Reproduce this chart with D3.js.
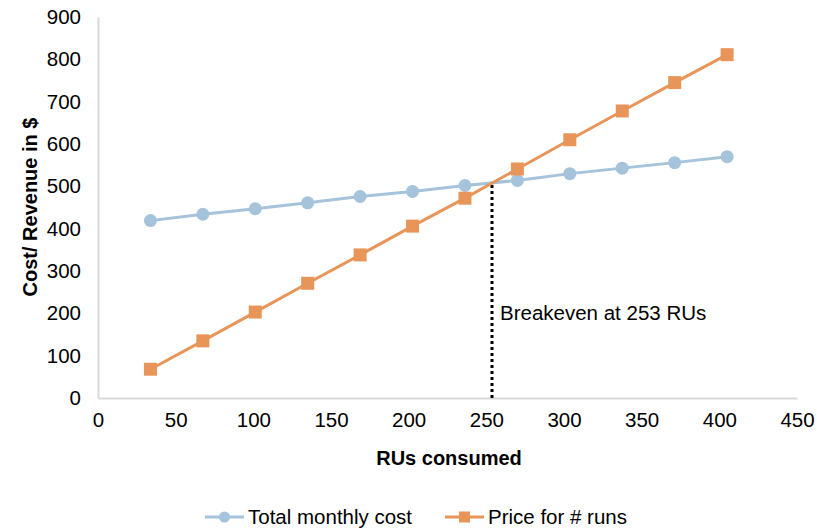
<!DOCTYPE html>
<html><head><meta charset="utf-8">
<script src="https://cdn.jsdelivr.net/npm/d3@7"></script>
<style>body{margin:0;background:#fff}text{font-family:"Liberation Sans",Arial,sans-serif}</style>
</head><body>
<svg id="c" width="817" height="529"></svg>
<script>
const runs = [33.75, 67.5, 101.25, 135, 168.75, 202.5, 236.25, 270, 303.75, 337.5, 371.25, 405];
const totalCost = [419, 434, 447, 461, 476, 488, 502, 514, 530, 543, 556, 570];
const priceRuns = [68, 135, 203, 271, 338, 406, 472, 541, 610, 678, 745, 811];
const xTicks = [0, 50, 100, 150, 200, 250, 300, 350, 400, 450];
const yTicks = [0, 100, 200, 300, 400, 500, 600, 700, 800, 900];
const breakeven = 253;
const breakevenY = 507;
const seriesNames = ["Total monthly cost", "Price for # runs"];
const colors = ["#a5c3db", "#e8955a"];

const svg = d3.select("#c");
const x = d3.scaleLinear().domain([0, 450]).range([98, 797]);
const y = d3.scaleLinear().domain([0, 900]).range([398, 17]);
const fs = 20.5;

// axes
const xa = svg.append("g").attr("transform", "translate(0,398)")
  .call(d3.axisBottom(x).tickValues(xTicks).tickSize(0).tickPadding(14));
const ya = svg.append("g").attr("transform", "translate(98,0)")
  .call(d3.axisLeft(y).tickValues(yTicks).tickSize(0).tickPadding(17));
[xa, ya].forEach(a => {
  a.select(".domain").attr("stroke", "#d9d9d9").attr("stroke-width", 2);
  a.selectAll("text").attr("font-size", fs).attr("fill", "#000")
    .attr("font-family", '"Liberation Sans",Arial,sans-serif');
});

// titles
svg.append("text").attr("x", 449).attr("y", 465).attr("text-anchor", "middle")
  .attr("font-size", 20).attr("font-weight", "bold").text("RUs consumed");
svg.append("text").attr("transform", "translate(37,207) rotate(-90)").attr("text-anchor", "middle")
  .attr("font-size", 20).attr("font-weight", "bold").text("Cost/ Revenue in $");

// breakeven line
svg.append("line").attr("x1", x(breakeven) + 1).attr("x2", x(breakeven) + 1)
  .attr("y1", y(0)).attr("y2", y(breakevenY))
  .attr("stroke", "#000").attr("stroke-width", 3).attr("stroke-dasharray", "3,3");
svg.append("text").attr("x", x(breakeven) + 9).attr("y", 320).attr("font-size", fs)
  .text("Breakeven at " + breakeven + " RUs");

const line = d3.line().x((d, i) => x(runs[i])).y(d => y(d));
const data = [totalCost, priceRuns];
data.forEach((s, k) => {
  svg.append("path").attr("d", line(s)).attr("fill", "none")
    .attr("stroke", colors[k]).attr("stroke-width", 3);
});
// markers
svg.selectAll(".c").data(totalCost).enter().append("circle")
  .attr("cx", (d, i) => x(runs[i])).attr("cy", d => y(d)).attr("r", 6.5).attr("fill", colors[0]);
svg.selectAll(".s").data(priceRuns).enter().append("rect")
  .attr("x", (d, i) => x(runs[i]) - 6.5).attr("y", d => y(d) - 6.5)
  .attr("width", 13).attr("height", 13).attr("fill", colors[1]);

// legend
const lg = [{x0: 205, name: seriesNames[0], c: colors[0], shape: "circle"},
            {x0: 445, name: seriesNames[1], c: colors[1], shape: "rect"}];
lg.forEach(l => {
  const ly = 517;
  svg.append("line").attr("x1", l.x0).attr("x2", l.x0 + 39).attr("y1", ly).attr("y2", ly)
    .attr("stroke", l.c).attr("stroke-width", 3);
  if (l.shape === "circle")
    svg.append("circle").attr("cx", l.x0 + 19.5).attr("cy", ly).attr("r", 5.5).attr("fill", l.c);
  else
    svg.append("rect").attr("x", l.x0 + 14).attr("y", ly - 5.5).attr("width", 11).attr("height", 11).attr("fill", l.c);
  svg.append("text").attr("x", l.x0 + 43).attr("y", ly + 7).attr("font-size", fs).text(l.name);
});
</script>
</body></html>
